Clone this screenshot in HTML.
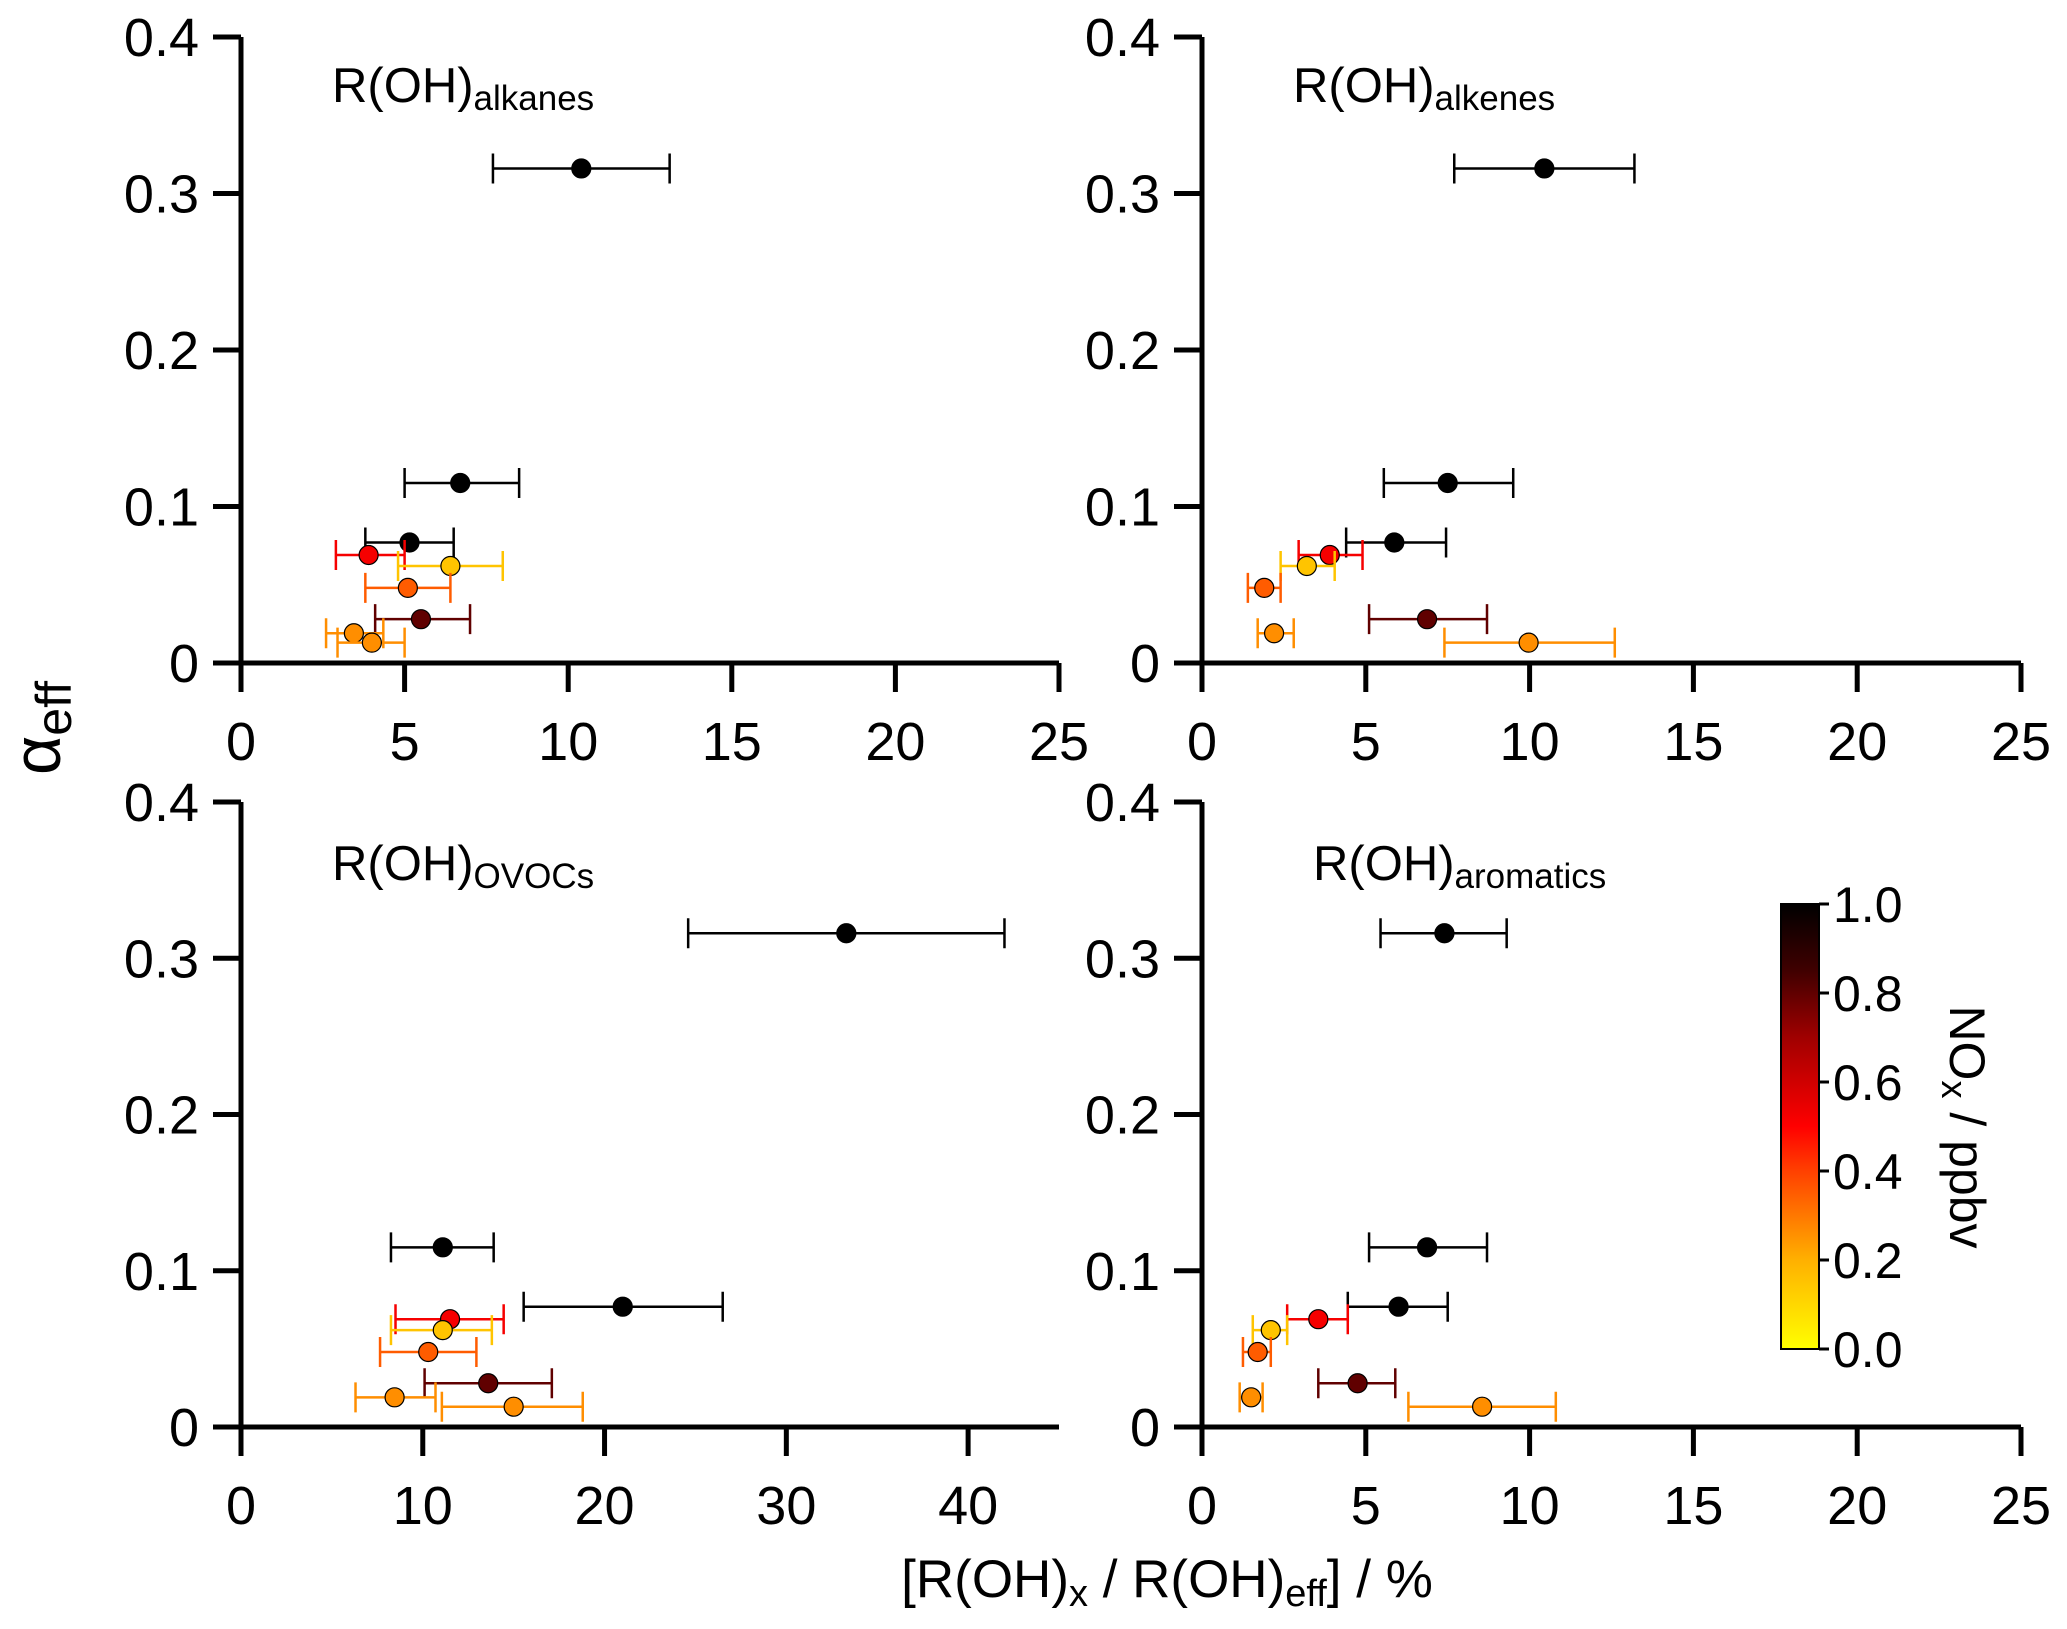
<!DOCTYPE html>
<html><head><meta charset="utf-8"><style>
html,body{margin:0;padding:0;background:#fff;}
svg{display:block;font-family:"Liberation Sans",sans-serif;}
</style></head><body>
<svg id="chart" width="2067" height="1629" viewBox="0 0 2067 1629" xmlns="http://www.w3.org/2000/svg">
<defs>
<linearGradient id="cbgrad" x1="0" y1="1" x2="0" y2="0">
<stop offset="0" stop-color="#ffff00"/><stop offset="0.2" stop-color="#ffb000"/>
<stop offset="0.4" stop-color="#ff4000"/><stop offset="0.5" stop-color="#ff0000"/>
<stop offset="0.7" stop-color="#a00000"/><stop offset="0.85" stop-color="#400000"/>
<stop offset="1" stop-color="#000000"/>
</linearGradient>
</defs>
<g id="root"></g>
</svg>
<script>
const alphaVals = [0.316, 0.115, 0.077, 0.069, 0.062, 0.048, 0.028, 0.019, 0.013];
const noxVals = [1.0, 1.0, 1.0, 0.52, 0.15, 0.35, 0.8, 0.26, 0.26];
const alkX = [10.4, 6.7, 5.15, 3.9, 6.4, 5.1, 5.5, 3.45, 4.0];
const alkLo = [7.7, 5.0, 3.8, 2.9, 4.8, 3.8, 4.1, 2.6, 2.95];
const alkHi = [13.1, 8.5, 6.5, 5.0, 8.0, 6.4, 7.0, 4.35, 5.0];
const aleX = [10.45, 7.5, 5.87, 3.9, 3.2, 1.9, 6.87, 2.2, 9.97];
const aleLo = [7.7, 5.55, 4.4, 2.95, 2.4, 1.4, 5.1, 1.7, 7.4];
const aleHi = [13.2, 9.5, 7.45, 4.9, 4.05, 2.4, 8.7, 2.8, 12.6];
const ovoX = [33.3, 11.1, 21.0, 11.5, 11.1, 10.3, 13.6, 8.45, 15.0];
const ovoLo = [24.6, 8.25, 15.55, 8.5, 8.25, 7.65, 10.1, 6.3, 11.05];
const ovoHi = [42.0, 13.9, 26.5, 14.45, 13.8, 12.95, 17.1, 10.7, 18.8];
const aroX = [7.4, 6.87, 6.0, 3.55, 2.1, 1.7, 4.75, 1.5, 8.55];
const aroLo = [5.45, 5.1, 4.45, 2.6, 1.55, 1.25, 3.55, 1.15, 6.3];
const aroHi = [9.3, 8.7, 7.5, 4.45, 2.6, 2.1, 5.9, 1.85, 10.8];
const yTicks = [0, 0.1, 0.2, 0.3, 0.4];
const yTickLabels = ["0", "0.1", "0.2", "0.3", "0.4"];
const xTicks25 = [0, 5, 10, 15, 20, 25];
const xTicks40 = [0, 10, 20, 30, 40];
const cbTicks = [0, 0.2, 0.4, 0.6, 0.8, 1.0];
const cbTickLabels = ["0.0", "0.2", "0.4", "0.6", "0.8", "1.0"];

const NS = "http://www.w3.org/2000/svg";
const root = document.getElementById('root');
function mk(tag, attrs, parent) {
  const e = document.createElementNS(NS, tag);
  for (const k in attrs) e.setAttribute(k, attrs[k]);
  (parent || root).appendChild(e);
  return e;
}
const stops = [[0,[255,255,0]],[0.2,[255,176,0]],[0.4,[255,64,0]],[0.5,[255,0,0]],[0.7,[160,0,0]],[0.85,[64,0,0]],[1,[0,0,0]]];
function cmap(v) {
  for (let i = 1; i < stops.length; i++) {
    if (v <= stops[i][0]) {
      const a = stops[i-1], b = stops[i], t = (v - a[0]) / (b[0] - a[0]);
      const c = a[1].map((x, j) => Math.round(x + (b[1][j] - x) * t));
      return `rgb(${c[0]},${c[1]},${c[2]})`;
    }
  }
  return 'rgb(0,0,0)';
}

const panels = [
  {name:'alkanes', x0:241, x1:1059, y0:663, y1:37, xmax:25, ticks:xTicks25, xs:alkX, lo:alkLo, hi:alkHi, title:'alkanes', tx:332, ty:102},
  {name:'alkenes', x0:1202, x1:2021, y0:663, y1:37, xmax:25, ticks:xTicks25, xs:aleX, lo:aleLo, hi:aleHi, title:'alkenes', tx:1293, ty:102},
  {name:'ovocs', x0:241, x1:1059, y0:1427, y1:802, xmax:45, ticks:xTicks40, xs:ovoX, lo:ovoLo, hi:ovoHi, title:'OVOCs', tx:332, ty:880},
  {name:'aromatics', x0:1202, x1:2021, y0:1427, y1:802, xmax:25, ticks:xTicks25, xs:aroX, lo:aroLo, hi:aroHi, title:'aromatics', tx:1313, ty:880}
];

panels.forEach(p => {
  const g = mk('g', {});
  
  
  const sx = v => p.x0 + (p.x1 - p.x0) * v / p.xmax;
  const sy = v => p.y0 + (p.y1 - p.y0) * v / 0.4;
  const ax = mk('path', {d:`M${p.x0},${p.y1} V${p.y0} H${p.x1}`, fill:'none', stroke:'#000', 'stroke-width':5}, g);
  
  
  yTicks.forEach((t, i) => {
    const y = sy(t);
    mk('line', {x1:p.x0 - 28, x2:p.x0, y1:y, y2:y, stroke:'#000', 'stroke-width':5}, g);
    const tl = mk('text', {x:p.x0 - 42, y:y + 19, 'font-size':54, 'text-anchor':'end'}, g);
    
    
    tl.textContent = yTickLabels[i];
  });
  p.ticks.forEach(t => {
    const x = sx(t);
    mk('line', {x1:x, x2:x, y1:p.y0, y2:p.y0 + 29, stroke:'#000', 'stroke-width':5}, g);
    const tl = mk('text', {x:x, y:p.y0 + 97, 'font-size':54, 'text-anchor':'middle'}, g);
    
    
    tl.textContent = String(t);
  });
  const tt = mk('text', {x:p.tx, y:p.ty, 'font-size':49}, g);
  
  
  tt.innerHTML = 'R(OH)<tspan font-size="35" dy="8">' + p.title + '</tspan>';
  p.xs.forEach((xv, i) => {
    const col = cmap(noxVals[i]);
    const y = sy(alphaVals[i]);
    const eb = mk('path', {d:`M${sx(p.lo[i])},${y-15} V${y+15} M${sx(p.lo[i])},${y} H${sx(p.hi[i])} M${sx(p.hi[i])},${y-15} V${y+15}`, fill:'none', stroke:col, 'stroke-width':2.5}, g);
    
    
    const c = mk('circle', {cx:sx(xv), cy:y, r:9.5, fill:col, stroke:'#000', 'stroke-width':1.2}, g);
    
    
  });
});

// colorbar
const cb = mk('g', {});


const cbx = 1781, cbw = 38, cby0 = 1349, cby1 = 904;
mk('rect', {x:cbx, y:cby1, width:cbw, height:cby0 - cby1, fill:'url(#cbgrad)', stroke:'#000', 'stroke-width':2}, cb);
cbTicks.forEach((t, i) => {
  const y = cby0 + (cby1 - cby0) * t;
  mk('line', {x1:cbx + cbw, x2:cbx + cbw + 10, y1:y, y2:y, stroke:'#000', 'stroke-width':3}, cb);
  const tl = mk('text', {x:cbx + cbw + 14, y:y + 18, 'font-size':50}, cb);
  
  
  tl.textContent = cbTickLabels[i];
});
const cbt = mk('text', {x:0, y:0, 'font-size':50, 'text-anchor':'middle', transform:'translate(1950,1127) rotate(90)'}, cb);


cbt.innerHTML = 'NO<tspan font-size="36" dy="8">x</tspan><tspan dy="-8"> / ppbv</tspan>';

const yt = mk('text', {x:0, y:0, 'font-size':68, 'text-anchor':'middle', transform:'translate(60,728) rotate(-90)'});


yt.innerHTML = 'α<tspan font-size="50" dy="11">eff</tspan>';

const xt = mk('text', {x:1167, y:1597, 'font-size':53, 'text-anchor':'middle'});


xt.innerHTML = '[R(OH)<tspan font-size="38" dy="9">x</tspan><tspan dy="-9"> / R(OH)</tspan><tspan font-size="38" dy="9">eff</tspan><tspan dy="-9">] / %</tspan>';
</script>
</body></html>
